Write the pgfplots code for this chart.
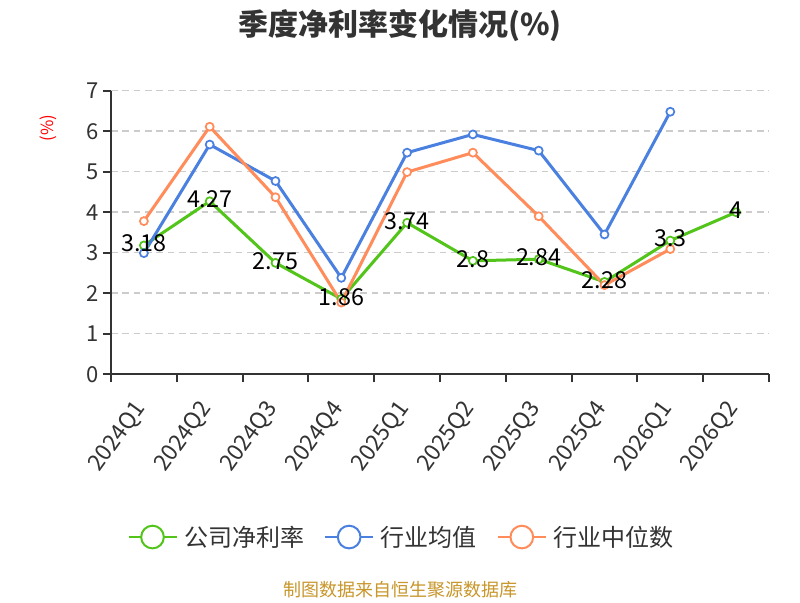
\documentclass[border=0pt]{standalone}
\usepackage{fontspec}
\setmainfont{Noto Sans CJK SC}
\usepackage{pgfplots}
\pgfplotsset{compat=1.18}
\definecolor{cgreen}{HTML}{52C41A}
\definecolor{cblue}{HTML}{4A80E0}
\definecolor{corange}{HTML}{FF8C5A}
\definecolor{axc}{HTML}{333333}
\definecolor{srcc}{HTML}{C8962A}
\definecolor{gridc}{HTML}{CCCCCC}
\begin{document}
\begin{tikzpicture}
\path[fill=white] (0,0) rectangle (600pt,450pt);
\begin{axis}[
  at={(83.25pt,169.3pt)}, anchor=south west,
  scale only axis, width=493.5pt, height=212.7pt,
  xmin=-0.5, xmax=9.5, ymin=0, ymax=7,
  clip=false,
  axis x line=bottom, axis y line=left,
  axis line style={-, draw=axc, line width=1.5pt},
  xtick={0,...,9},
  xticklabels={2024Q1,2024Q2,2024Q3,2024Q4,2025Q1,2025Q2,2025Q3,2025Q4,2026Q1,2026Q2},
  major x tick style={draw=none},
  minor xtick={-0.5,0.5,...,9.5},
  minor x tick style={draw=axc, line width=1.5pt},
  minor tick length=6pt, major tick length=6pt,
  tick align=outside,
  ytick={0,...,7},
  y tick style={draw=axc, line width=1.5pt},
  ymajorgrids,
  grid style={draw=gridc, line width=1.1pt, dash pattern=on 5pt off 3.5pt},
  /pgf/number format/assume math mode=true,
  xticklabel style={yshift=-14pt, xshift=0pt, rotate=54, anchor=east, font=\fontsize{17}{19}\selectfont, text=axc},
  yticklabel style={font=\fontsize{16.5}{19}\selectfont, text=axc},
  legend style={at={(0.442,-0.574)}, anchor=center, draw=none, fill=none,
    font=\fontsize{18}{21}\selectfont, text=axc,
    /tikz/every odd column/.append style={column sep=3pt},
    /tikz/every even column/.append style={column sep=13pt}},
  legend columns=3,
  legend cell align=left,
  legend image code/.code={
    \draw[#1, line width=1.5pt] (0pt,0pt) -- (36pt,0pt);
    \draw[#1, line width=1.5pt, fill=white] (18pt,0pt) circle (8.5pt);
  },
  every axis plot/.append style={line width=2.25pt, mark=*, mark size=3pt,
    mark options={fill=white, line width=1.3pt}},
]
\addplot[color=cgreen] coordinates {(0,3.18)(1,4.27)(2,2.75)(3,1.86)(4,3.74)(5,2.8)(6,2.84)(7,2.28)(8,3.3)(9,4)};
\addlegendentry{公司净利率}
\addplot[color=cblue] coordinates {(0,2.99)(1,5.67)(2,4.77)(3,2.38)(4,5.47)(5,5.92)(6,5.52)(7,3.45)(8,6.48)};
\addlegendentry{行业均值}
\addplot[color=corange] coordinates {(0,3.78)(1,6.11)(2,4.37)(3,1.77)(4,4.99)(5,5.47)(6,3.90)(7,2.20)(8,3.09)};
\addlegendentry{行业中位数}
\addplot[draw=none, mark=none, forget plot, nodes near coords, point meta=explicit symbolic,
  nodes near coords style={anchor=center, yshift=1.5pt, font=\fontsize{17.5}{20}\selectfont, text=black}]
  coordinates {(0,3.18)[3.18] (1,4.27)[4.27] (2,2.75)[2.75] (3,1.86)[1.86] (4,3.74)[3.74] (5,2.8)[2.8] (6,2.84)[2.84] (7,2.28)[2.28] (8,3.3)[3.3] (9,4)[4]};
\end{axis}
\node[font=\fontsize{22.5}{26}\selectfont\bfseries, text=axc] at (300pt,430.5pt) {季度净利率变化情况(\%)};
\node[font=\fontsize{12.5}{15}\selectfont, text=red, rotate=90] at (36pt,354pt) {(\%)};
\node[font=\fontsize{13.5}{16}\selectfont, text=srcc] at (300pt,7.5pt) {制图数据来自恒生聚源数据库};
\end{tikzpicture}
\end{document}
